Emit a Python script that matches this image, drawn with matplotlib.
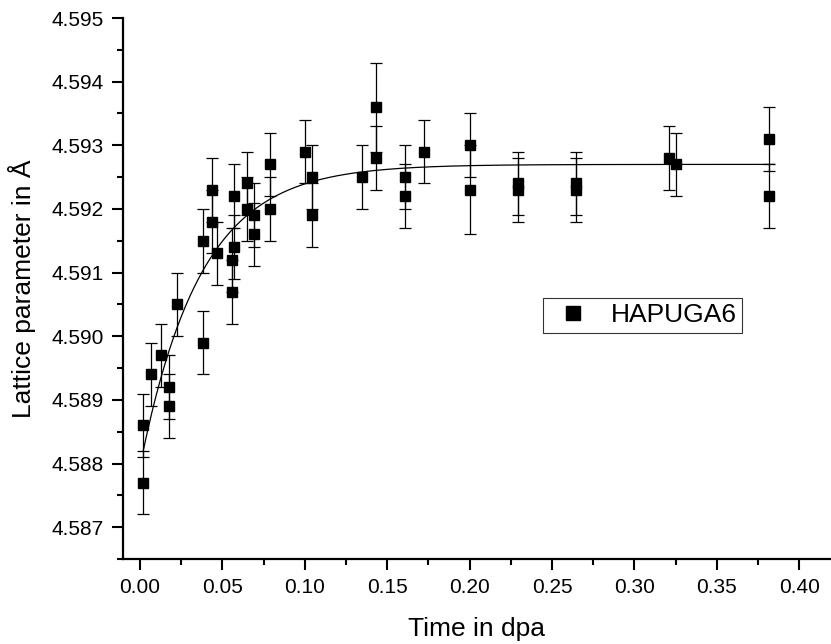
#!/usr/bin/python3

# Lattice parameter vs. dose with exponential saturation fit

import numpy as np
import matplotlib
matplotlib.use('Agg')
import matplotlib.pyplot as plt
from matplotlib.ticker import MultipleLocator, FormatStrFormatter

# measured points (dpa, lattice parameter in A, error)
dose=[0.0016,0.0016,0.0065,0.0125,0.0174,0.0174,0.0222,0.0384,0.0384,0.0435,
      0.0435,0.0465,0.0560,0.0560,0.0570,0.0570,0.0647,0.0647,0.0692,0.0692,
      0.0789,0.0789,0.1001,0.1042,0.1042,0.1350,0.1432,0.1432,0.1608,0.1608,
      0.1725,0.2000,0.2000,0.2291,0.2291,0.2646,0.2646,0.3210,0.3252,0.3819,
      0.3819]
lattice=[4.5877,4.5886,4.5894,4.5897,4.5892,4.5889,4.5905,4.5899,4.5915,4.5923,
         4.5918,4.5913,4.5912,4.5907,4.5922,4.5914,4.5924,4.5920,4.5919,4.5916,
         4.5927,4.5920,4.5929,4.5925,4.5919,4.5925,4.5936,4.5928,4.5925,4.5922,
         4.5929,4.5930,4.5923,4.5924,4.5923,4.5924,4.5923,4.5928,4.5927,4.5931,
         4.5922]
err=[0.0005]*len(dose)
err[26]=0.0007
err[32]=0.0007

# fitted saturation curve a_inf - b*exp(-x/t)
fit_ainf=4.5927
fit_b=0.00475
fit_t=0.0365
fit_start=0.002
fit_end=0.385

label_name="HAPUGA6"

plt.rcParams['font.family']=['Liberation Sans','DejaVu Sans']

fig=plt.figure(figsize=(8.31,6.44),dpi=100)
W,H=831,644
ax=fig.add_axes([123/W,(H-559)/H,(W-123)/W,(559-18)/H])

ax.errorbar(dose,lattice,yerr=err,fmt='none',ecolor='black',elinewidth=0.9,
            capsize=4.5,capthick=0.9,zorder=2)
ax.plot(dose,lattice,'s',color='black',markersize=7.5,label=label_name,zorder=3)

xf=np.linspace(fit_start,fit_end,300)
ax.plot(xf,fit_ainf-fit_b*np.exp(-xf/fit_t),color='black',lw=0.9,zorder=2.5)

ax.set_xlim(-0.0103,0.4193)
ax.set_ylim(4.5865,4.595)

for s in ['top','right']:
    ax.spines[s].set_visible(False)
for s in ['left','bottom']:
    ax.spines[s].set_linewidth(1.6)

ax.xaxis.set_major_locator(MultipleLocator(0.05))
ax.xaxis.set_minor_locator(MultipleLocator(0.025))
ax.yaxis.set_major_locator(MultipleLocator(0.001))
ax.yaxis.set_minor_locator(MultipleLocator(0.0005))
ax.xaxis.set_major_formatter(FormatStrFormatter('%.2f'))
ax.yaxis.set_major_formatter(FormatStrFormatter('%.3f'))
ax.tick_params(axis='both',which='major',direction='out',length=7.8,width=1.5,labelsize=15)
ax.tick_params(axis='both',which='minor',direction='out',length=4.3,width=1.5)
ax.tick_params(axis='x',which='major',pad=6)
ax.tick_params(axis='y',which='major',pad=6)

ax.set_xlabel("Time in dpa",fontsize=19,labelpad=14)
ax.set_ylabel("Lattice parameter in Å",fontsize=19,labelpad=11)

leg=ax.legend(loc='upper left',bbox_to_anchor=(0.5932,0.4824),borderaxespad=0,
              fontsize=19,frameon=True,fancybox=False,borderpad=0.2,
              handlelength=1.87,handletextpad=0.5,numpoints=1,markerscale=1.3)
leg.get_frame().set_edgecolor('black')
leg.get_frame().set_linewidth(0.8)

plt.savefig('out.png',dpi=100)
